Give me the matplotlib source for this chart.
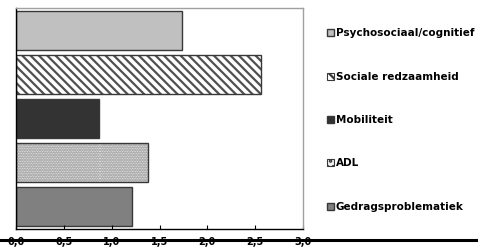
import matplotlib
matplotlib.use('Agg')
import matplotlib.pyplot as plt
from matplotlib.patches import Patch
import numpy as np

# data, top bar first
categories = ['Psychosociaal/cognitief', 'Sociale redzaamheid', 'Mobiliteit',
              'ADL', 'Gedragsproblematiek']
values = [1.73, 2.56, 0.87, 1.38, 1.21]
xticks = [0.0, 0.5, 1.0, 1.5, 2.0, 2.5, 3.0]
xticklabels = ['0,0', '0,5', '1,0', '1,5', '2,0', '2,5', '3,0']

faces = ['#c0c0c0', 'white', '#333333', '#f0f0f0', '#808080']
hatches = [None, '\\' * 4, None, '.' * 10, None]
hatch_cols = [None, '#505050', None, '#b0b0b0', None]

plt.rcParams['font.family'] = 'DejaVu Sans'
plt.rcParams['hatch.linewidth'] = 1.6

fig = plt.figure(figsize=(4.78, 2.49), dpi=100)
ax = fig.add_axes([16 / 478, 1 - 229 / 249, 287 / 478, 221 / 249])

ypos = np.arange(len(categories))[::-1]
handles = []
for y, v, fc, h, hc in zip(ypos, values, faces, hatches, hatch_cols):
    if h:
        ax.barh(y, v, height=0.88, color=fc, edgecolor=hc, hatch=h, linewidth=0)
    b = ax.barh(y, v, height=0.88, facecolor=fc if not h else 'none',
                edgecolor='#383838', linewidth=1.0)
    if h:
        handles.append(Patch(facecolor=fc, edgecolor='#383838', hatch=h[:3], linewidth=0.8))
    else:
        handles.append(b)

ax.set_xlim(0, 3.0)
ax.set_ylim(-0.5, 4.5)
ax.set_yticks([])
ax.set_xticks(xticks)
ax.set_xticklabels(xticklabels, fontsize=7, fontweight='bold')
ax.tick_params(axis='x', direction='in', length=3, pad=6, width=0.8)
for s in ['left', 'bottom']:
    ax.spines[s].set_color('black')
    ax.spines[s].set_linewidth(1.0)
for s in ['top', 'right']:
    ax.spines[s].set_color('#a0a0a0')
    ax.spines[s].set_linewidth(1.0)

# thick rule through the tick labels (axes coords, full figure width)
ly = -11 / 221
ax.plot([-16 / 287, 462 / 287], [ly, ly], transform=ax.transAxes,
        color='#000000', linewidth=2.2, clip_on=False, zorder=5)

leg = fig.legend(handles, categories, loc='upper left',
                 bbox_to_anchor=(318 / 478, 1 - 19 / 249),
                 frameon=False, handlelength=0.65, handleheight=0.65,
                 handletextpad=0.15, labelspacing=3.2,
                 prop={'size': 7.5, 'weight': 'bold'})

fig.savefig('out.png', dpi=100)
